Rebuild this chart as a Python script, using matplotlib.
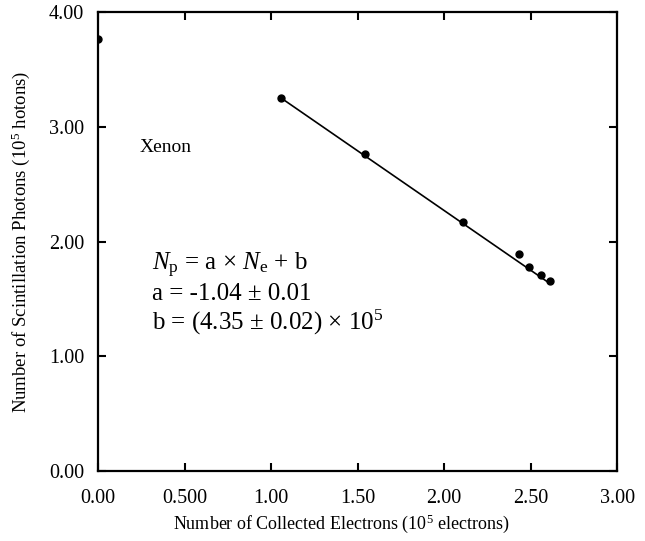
import numpy as np
import matplotlib.pyplot as plt

plt.rcParams['font.family'] = ['Liberation Serif', 'DejaVu Serif']
plt.rcParams['mathtext.fontset'] = 'custom'
plt.rcParams['mathtext.rm'] = 'Liberation Serif'
plt.rcParams['mathtext.it'] = 'Liberation Serif:italic'

# measured points (10^5 electrons, 10^5 photons)
electrons = [0.00, 1.06, 1.54, 2.11, 2.43, 2.49, 2.56, 2.61]
photons = [3.76, 3.25, 2.76, 2.17, 1.89, 1.78, 1.71, 1.66]

# fit parameters
slope = -1.04
intercept = 4.35

x_ticks = [0.0, 0.5, 1.0, 1.5, 2.0, 2.5, 3.0]
x_tick_labels = ['0.00', '0.500', '1.00', '1.50', '2.00', '2.50', '3.00']
y_ticks = [0.0, 1.0, 2.0, 3.0, 4.0]
y_tick_labels = ['0.00', '1.00', '2.00', '3.00', '4.00']

fig = plt.figure(figsize=(6.45, 5.41), dpi=100)
ax = fig.add_axes([0.152, 0.129, 0.805, 0.849])

ax.plot(electrons, photons, 'o', color='black', markersize=5, zorder=3)

# fitted line over the non-zero points
fit_x = np.array([electrons[1], electrons[-1]])
ax.plot(fit_x, slope * fit_x + intercept, color='black', linewidth=1.2)

ax.set_xlim(0, 3.0)
ax.set_ylim(0, 4.0)
ax.set_xticks(x_ticks)
ax.set_xticklabels(x_tick_labels)
ax.set_yticks(y_ticks)
ax.set_yticklabels(y_tick_labels)
ax.tick_params(direction='in', length=6, width=1.5, top=True, right=True,
               labelsize=14.5)
ax.tick_params(axis='x', pad=13)
ax.tick_params(axis='y', pad=10)
for s in ax.spines.values():
    s.set_linewidth(1.6)

ax.set_xlabel('Number of Collected Electrons (10$^5$ electrons)', fontsize=13)
ax.set_ylabel('Number of Scintillation Photons (10$^5$ hotons)', fontsize=13.5)
ax.xaxis.set_label_coords(0.468, -0.09)
ax.yaxis.set_label_coords(-0.127, 0.5)

ax.text(0.24, 2.82, 'Xenon', fontsize=14, va='center')
ax.text(0.31, 1.75, '$N_{\\mathrm{p}}$ = a \u00d7 $N_{\\mathrm{e}}$ + b', fontsize=18, va='baseline')
ax.text(0.31, 1.49, 'a = -1.04 \u00b1 0.01', fontsize=18, va='baseline')
ax.text(0.31, 1.23, 'b = (4.35 \u00b1 0.02) \u00d7 10$^5$', fontsize=18, va='baseline')

plt.savefig('out.png', dpi=100)
